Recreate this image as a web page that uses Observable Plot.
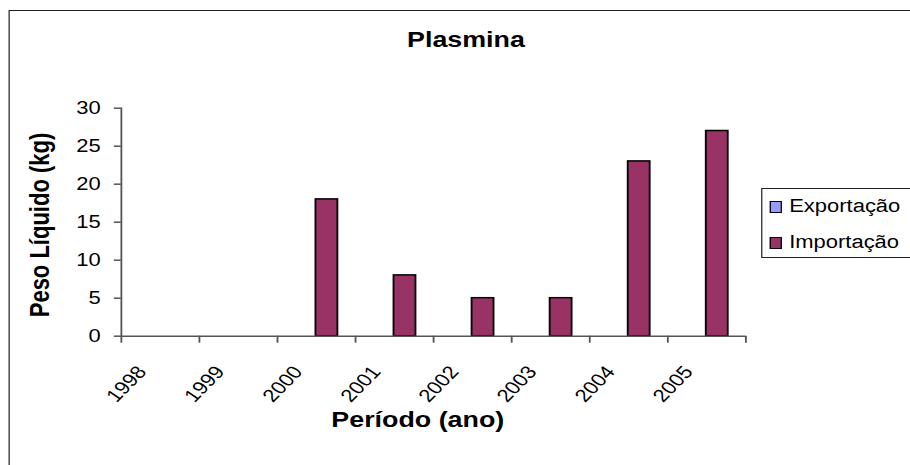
<!DOCTYPE html>
<html>
<head>
<meta charset="utf-8">
<script src="https://cdn.jsdelivr.net/npm/d3@7"></script>
<script src="https://cdn.jsdelivr.net/npm/@observablehq/plot@0.6"></script>
<style>
  html, body { margin: 0; padding: 0; background: #fff; overflow: hidden; }
  #wrap { position: absolute; left: 0; top: 0; width: 746px; height: 465px; overflow: hidden;
          transform: scaleX(1.2198); transform-origin: 0 0;
          font-family: "Liberation Sans", Arial, sans-serif; color: #000; }
  #chart { position: absolute; left: 0; top: 0; }
  .border { position: absolute; left: 7px; top: 10px; width: 900px; height: 600px;
            border: 1.5px solid #222; box-sizing: border-box; }
  .title { position: absolute; font-weight: bold; font-size: 22px; line-height: 22px; white-space: nowrap; }
  #legend { position: absolute; left: 624px; top: 188px; width: 200px; height: 70px;
            border: 1.5px solid #222; box-sizing: border-box; background: #fff; }
  .item { position: absolute; left: 6px; font-size: 18px; line-height: 18px; white-space: nowrap; }
  .sw { display: inline-block; width: 10px; height: 12px; border: 1.5px solid #000; box-sizing: border-box;
        margin-right: 6px; vertical-align: -1px; }
</style>
</head>
<body>
<div id="wrap">
  <div class="border"></div>
  <div id="chart"></div>
  <div class="title" id="t-main" style="left:0;width:764px;text-align:center;top:29px;">Plasmina</div>
  <div class="title" id="t-x" style="left:0;width:685px;text-align:center;top:409px;">Período (ano)</div>
  <div class="title" id="t-y" style="left:-67.5px;top:214px;width:200px;text-align:center;transform:rotate(-90deg);">Peso Líquido (kg)</div>
  <div id="legend"></div>
</div>
<script>
// ---- data ----
const years = ["1998", "1999", "2000", "2001", "2002", "2003", "2004", "2005"];
const series = ["Exportação", "Importação"];
const exportacao = [0, 0, 0, 0, 0, 0, 0, 0];
const importacao = [0, 0, 18, 8, 5, 5, 23, 27];
const seriesColors = ["#9999FF", "#993366"];
const yTicks = [0, 5, 10, 15, 20, 25, 30];

const rows = [];
years.forEach((y, i) => {
  rows.push({year: y, series: series[0], value: exportacao[i]});
  rows.push({year: y, series: series[1], value: importacao[i]});
});

// ---- layout ----
const W = 746, H = 465;
const mL = 98.4, mR = 135.3, mT = 107.7, mB = 129.3;
const fxStep = (W - mL - mR) / years.length;
const axisColor = "#555";

const chart = Plot.plot({
  width: W, height: H,
  marginLeft: mL, marginRight: mR, marginTop: mT, marginBottom: mB,
  style: {fontFamily: "Liberation Sans, Arial, sans-serif", fontSize: "18px", color: "#000", background: "transparent", overflow: "visible"},
  fx: {domain: years, padding: 0, axis: null, label: null},
  x: {domain: series, paddingInner: 0, paddingOuter: 0.75, axis: null, label: null},
  y: {domain: [0, 30], axis: null, label: null},
  color: {domain: series, range: seriesColors},
  marks: [
    Plot.barY(rows.filter(d => d.value > 0), {fx: "year", x: "series", y: "value", fill: "series", stroke: "#000", strokeWidth: 1.5}),
    Plot.ruleY([0], {stroke: axisColor, strokeWidth: 1.5}),
    Plot.frame({anchor: "left", facet: "super", stroke: axisColor, strokeWidth: 1.5}),
    Plot.axisY({ticks: yTicks, tickSize: 5.7, tickPadding: 11.3, label: null, stroke: axisColor, strokeWidth: 1.5, fill: "#000", fontSize: 18}),
    Plot.axisFx({anchor: "bottom", tickSize: 7, tickFormat: () => "", label: null, dx: -fxStep / 2, stroke: axisColor, strokeWidth: 1.5}),
    Plot.axisFx({anchor: "bottom", ticks: [years[years.length - 1]], tickSize: 7, tickFormat: () => "", label: null, dx: fxStep / 2, stroke: axisColor, strokeWidth: 1.5}),
    Plot.text(years, {fx: d => d, text: d => d, frameAnchor: "bottom", rotate: -50.7, textAnchor: "end", lineAnchor: "bottom", dx: -10.6, dy: 36, fontSize: 18, fill: "#000"})
  ]
});
document.getElementById("chart").appendChild(chart);

// ---- legend ----
const legend = document.getElementById("legend");
series.forEach((s, i) => {
  const item = document.createElement("div");
  item.className = "item";
  item.style.top = (8 + i * 36) + "px";
  const sw = document.createElement("span");
  sw.className = "sw";
  sw.style.background = seriesColors[i];
  item.appendChild(sw);
  item.appendChild(document.createTextNode(s));
  legend.appendChild(item);
});
</script>
</body>
</html>
